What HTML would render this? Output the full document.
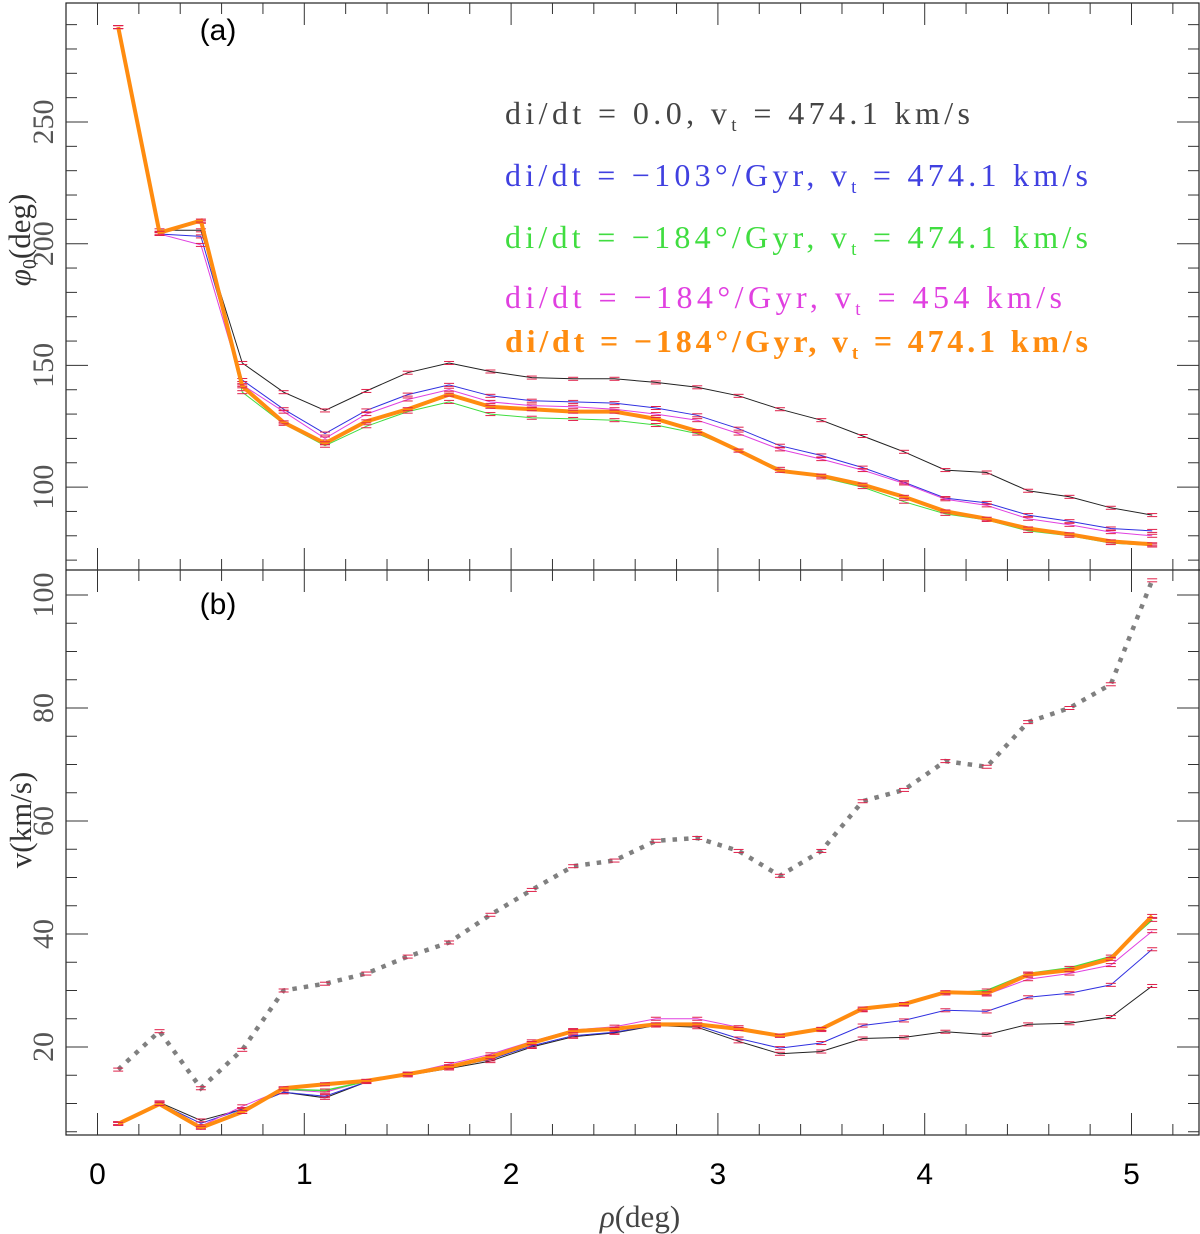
<!DOCTYPE html>
<html><head><meta charset="utf-8"><style>
html,body{margin:0;padding:0;background:#fff}
svg{display:block}
</style></head><body>
<svg id="chart" width="1200" height="1234" xmlns="http://www.w3.org/2000/svg"></svg>
<script>
const rho=[0.1,0.3,0.5,0.7,0.9,1.1,1.3,1.5,1.7,1.9,2.1,2.3,2.5,2.7,2.9,3.1,3.3,3.5,3.7,3.9,4.1,4.3,4.5,4.7,4.9,5.1];
const phiBlack=[289,205.5,205.5,151,139,131.5,139.5,147,151,147.5,145,144.5,144.5,143,141,137.5,132,127.5,121,114.5,107,106,98.5,96,91.5,88.5];
const phiBlue=[289,204,203,144,132,122,131.5,138,142,137.5,135.5,135,134.5,132.5,129.5,124,117,113,108,102,95.5,93.5,88.5,86,83,82];
const phiGreen=[289,204,209,139,126,117,125,131,135,130,128.5,128,127.5,125.5,122,115,107.5,104,100,94,89,86.5,82,80,77,76];
const phiMagenta=[289,204,199.5,142,131,120,130,136,140,135,133.5,133,132,130,127.5,122,115.5,111.5,107,101.5,95,92.5,87,84.5,81.5,80];
const phiOrange=[289,204.5,209.5,141.4,126.6,118,127,132,138,133,132,131,131,128,123,115,106.7,104.7,101,96,90,87,83,80.6,77.7,76.5];
const vDotted=[16,22.8,12.7,19.5,30,31.2,33,36,38.5,43.4,47.8,52,53,56.5,57,54.7,50.3,54.7,63.5,65.5,70.6,69.6,77.5,80,84.2,102.6];
const vBlack=[6.5,10.2,7,9,12,11,13.8,15,16.2,17.5,20,21.8,22.5,23.8,23.5,21,18.8,19.2,21.5,21.7,22.7,22.2,24,24.2,25.3,30.8];
const vBlue=[6.5,10,6.5,9,12,11.3,13.8,15,16.4,17.8,20.2,22,22.6,23.9,23.8,21.5,19.8,20.7,23.8,24.7,26.5,26.3,28.8,29.5,31,37.3];
const vGreen=[6.4,10,5.8,8.8,12.5,12.3,13.9,15.2,16.6,18.3,20.7,22.8,23.2,24,24,23.2,22,23.2,26.6,27.6,29.5,30,33,34,36,42.5];
const vMagenta=[6.5,10,6,9.5,12.5,12,14,15.3,17,18.7,21,23,23.6,25,25,23.5,22,23,26.5,27.5,29.5,29.3,32,33,34.5,40.5];
const vOrange=[6.4,9.9,5.7,8.5,12.7,13.4,14,15.2,16.5,18.2,20.7,22.8,23.2,24,24,23.2,22,23.2,26.8,27.6,29.7,29.5,32.8,33.6,35.6,43.2];
const xTicks=[0,1,2,3,4,5];
const phiTicks=[100,150,200,250];
const vTicks=[20,40,60,80,100];

const NS='http://www.w3.org/2000/svg';
const svg=document.getElementById('chart');
const L=66,R=1200,T=3,M=570,B=1135;
const X=v=>97.5+v*206.8;
const YA=v=>122-(v-250)*2.434;
const YB=v=>1047-(v-20)*5.65;
function el(tag,attrs,parent){const e=document.createElementNS(NS,tag);for(const k in attrs)e.setAttribute(k,attrs[k]);(parent||svg).appendChild(e);return e;}
function line(x1,y1,x2,y2,c,w,g){return el('line',{x1,y1,x2,y2,stroke:c,'stroke-width':w},g);}

const frame=el('g',{});


el('rect',{x:L,y:T,width:R-L-1,height:B-T,fill:'none',stroke:'#222','stroke-width':1.2},frame);
line(L,M,R,M,'#222',1.2,frame);
for(let v=0;v<=5.41;v+=0.2){const x=X(v);const maj=Math.abs(v-Math.round(v))<0.01;const len=maj?22:11;
 line(x,T,x,T+len,'#333',1,frame);line(x,M,x,M-len,'#333',1,frame);line(x,M,x,M+len,'#333',1,frame);line(x,B,x,B-len,'#333',1,frame);}
for(let v=70;v<=300;v+=10){const y=YA(v);if(y<T||y>M)continue;const len=v%50==0?22:11;line(L,y,L+len,y,'#333',1,frame);line(R-1,y,R-1-len,y,'#333',1,frame);}
for(let v=5;v<=104;v+=5){const y=YB(v);if(y<M||y>B)continue;const len=v%20==0?22:11;line(L,y,L+len,y,'#333',1,frame);line(R-1,y,R-1-len,y,'#333',1,frame);}

const labels=el('g',{});


xTicks.forEach(v=>{const t=el('text',{x:X(v),y:1184,'font-family':'Liberation Sans, sans-serif','font-size':30,'text-anchor':'middle',fill:'#000'},labels);t.textContent=v;});
phiTicks.forEach(v=>{const y=YA(v);const t=el('text',{x:0,y:0,transform:`translate(53,${y}) rotate(-90)`,'font-family':'Liberation Serif, serif','font-size':30,'text-anchor':'middle',fill:'#555'},labels);t.textContent=v;});
vTicks.forEach(v=>{const y=YB(v);const t=el('text',{x:0,y:0,transform:`translate(53,${y}) rotate(-90)`,'font-family':'Liberation Serif, serif','font-size':30,'text-anchor':'middle',fill:'#555'},labels);t.textContent=v;});

const ya=el('text',{x:0,y:0,transform:'translate(30,240) rotate(-90)','font-family':'Liberation Serif, serif','font-size':31,'text-anchor':'middle',fill:'#333'});

ya.innerHTML='<tspan font-style="italic">φ</tspan><tspan font-size="20" dy="6">0</tspan><tspan dy="-6">(deg)</tspan>';
const yb=el('text',{x:0,y:0,transform:'translate(31,820) rotate(-90)','font-family':'Liberation Serif, serif','font-size':31,'text-anchor':'middle',fill:'#333'});

yb.textContent='v(km/s)';
const xt=el('text',{x:640,y:1227,'font-family':'Liberation Serif, serif','font-size':31,'text-anchor':'middle',fill:'#444'});

xt.innerHTML='<tspan font-style="italic">ρ</tspan>(deg)';
const pa=el('text',{x:218,y:40,'font-family':'Liberation Sans, sans-serif','font-size':30,'text-anchor':'middle',fill:'#000'});
pa.textContent='(a)';
const pb=el('text',{x:218,y:614,'font-family':'Liberation Sans, sans-serif','font-size':30,'text-anchor':'middle',fill:'#000'});
pb.textContent='(b)';

function series(vals,Y,color,w,name,dash){
 const g=el('g',{});
 
 
 const pts=vals.map((v,i)=>X(rho[i]).toFixed(1)+','+Y(v).toFixed(1)).join(' ');
 const a={points:pts,fill:'none',stroke:color,'stroke-width':w,'stroke-linejoin':'miter'};
 if(dash){a['stroke-dasharray']=dash;}
 el('polyline',a,g);
 vals.forEach((v,i)=>{const x=X(rho[i]),y=Y(v);line(x-5,y-1.5,x+5,y-1.5,'#e0204a',1,g);line(x-5,y+1.5,x+5,y+1.5,'#e0204a',1,g);});
}
series(phiBlack,YA,'#222',1,'phi-series-black');
series(phiBlue,YA,'#3030e0',1,'phi-series-blue');
series(phiMagenta,YA,'#e040e0',1,'phi-series-magenta');
series(phiGreen,YA,'#40dd40',1,'phi-series-green');
series(phiOrange,YA,'#ff8c10',4,'phi-series-orange');
series(vDotted,YB,'#808080',4.5,'v-series-dotted','4.5 7');
series(vBlack,YB,'#222',1,'v-series-black');
series(vBlue,YB,'#3030e0',1,'v-series-blue');
series(vMagenta,YB,'#e040e0',1,'v-series-magenta');
series(vGreen,YB,'#40dd40',1.5,'v-series-green');
series(vOrange,YB,'#ff8c10',4,'v-series-orange');

const leg=[
 {t:'di/dt = 0.0, v<sub>t</sub> = 474.1 km/s',c:'#444',y:124,w:465,b:false,n:'legend-entry-black'},
 {t:'di/dt = −103°/Gyr, v<sub>t</sub> = 474.1 km/s',c:'#4040e0',y:186,w:583,b:false,n:'legend-entry-blue'},
 {t:'di/dt = −184°/Gyr, v<sub>t</sub> = 474.1 km/s',c:'#40dd40',y:248,w:583,b:false,n:'legend-entry-green'},
 {t:'di/dt = −184°/Gyr, v<sub>t</sub> = 454 km/s',c:'#e040e0',y:308,w:557,b:false,n:'legend-entry-magenta'},
 {t:'di/dt = −184°/Gyr, v<sub>t</sub> = 474.1 km/s',c:'#ff8c10',y:352,w:583,b:true,n:'legend-entry-orange'}
];
leg.forEach(o=>{
 const parts=o.t.split(/<sub>t<\/sub>/);
 const t=el('text',{x:505,y:o.y,'font-family':'Liberation Serif, serif','font-size':32,fill:o.c,'font-weight':o.b?'bold':'normal'});
 
 
 const s1=el('tspan',{},t);s1.textContent=parts[0];
 const s2=el('tspan',{'font-size':19,dy:7},t);s2.textContent='t';
 const s3=el('tspan',{dy:-7},t);s3.textContent=parts[1];
 t.setAttribute('textLength',o.w);t.setAttribute('lengthAdjust','spacing');
});
</script>
</body></html>
